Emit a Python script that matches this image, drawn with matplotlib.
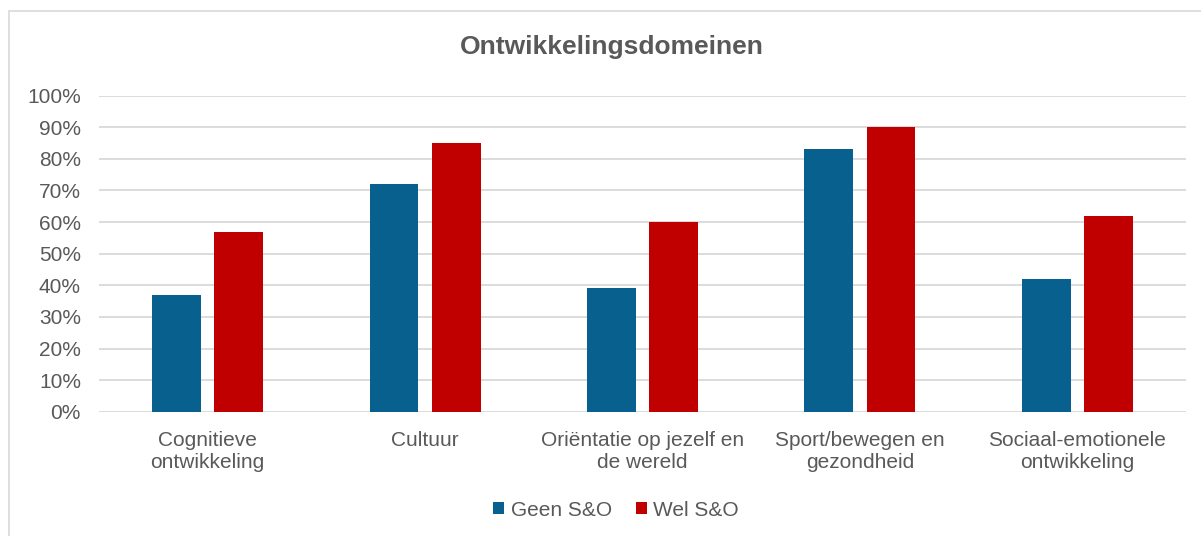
import numpy as np
import matplotlib.pyplot as plt
from matplotlib.patches import Rectangle
from matplotlib.ticker import PercentFormatter

categories = ["Cognitieve\nontwikkeling", "Cultuur", "Oriëntatie op jezelf en\nde wereld",
              "Sport/bewegen en\ngezondheid", "Sociaal-emotionele\nontwikkeling"]
geen = [37, 72, 39, 83, 42]
wel = [57, 85, 60, 90, 62]
yticks = list(range(0, 101, 10))

blue = '#08608f'
red = '#c00000'
txt = '#595959'

plt.rcParams['font.family'] = ['Liberation Sans', 'DejaVu Sans']

fig = plt.figure(figsize=(12.01, 5.36), dpi=100)
# outer chart frame (cropped at right and bottom)
fig.patches.append(Rectangle((9 / 1201, -0.05), 1.2, 1 - 11 / 536 + 0.05, transform=fig.transFigure,
                             fill=False, edgecolor='#d9d9d9', linewidth=1.2))

ax = fig.add_axes([99 / 1201, 1 - 411.7 / 536, (1186 - 99) / 1201, (411.7 - 95.7) / 536])
x = np.arange(len(categories))
w = 0.225
off = 0.143
ax.bar(x - off, geen, w, color=blue, label='Geen S&O', zorder=3)
ax.bar(x + off, wel, w, color=red, label='Wel S&O', zorder=3)

ax.set_xlim(-0.5, len(categories) - 0.5)
ax.set_ylim(0, 100)
ax.set_yticks(yticks)
ax.yaxis.set_major_formatter(PercentFormatter(decimals=0))
ax.grid(axis='y', color='#d9d9d9', linewidth=1.3, zorder=0)
for s in ['top', 'right', 'left', 'bottom']:
    ax.spines[s].set_visible(False)
ax.tick_params(axis='both', length=0, labelsize=15, colors=txt)
ax.tick_params(axis='y', pad=13)
ax.tick_params(axis='x', pad=14)
ax.set_xticks(x)
ax.set_xticklabels(categories, linespacing=1.18)

fig.text(612 / 1201, 1 - 47 / 536, "Ontwikkelingsdomeinen", ha='center', va='center',
         fontsize=19, fontweight='bold', color=txt)

fig.legend(loc='center', bbox_to_anchor=(616 / 1201, 1 - 510 / 536), ncol=2, frameon=False,
           fontsize=15, labelcolor=txt, handlelength=0.55, handleheight=0.55,
           handletextpad=0.3, columnspacing=1.15)

fig.savefig('out.png', dpi=100)
